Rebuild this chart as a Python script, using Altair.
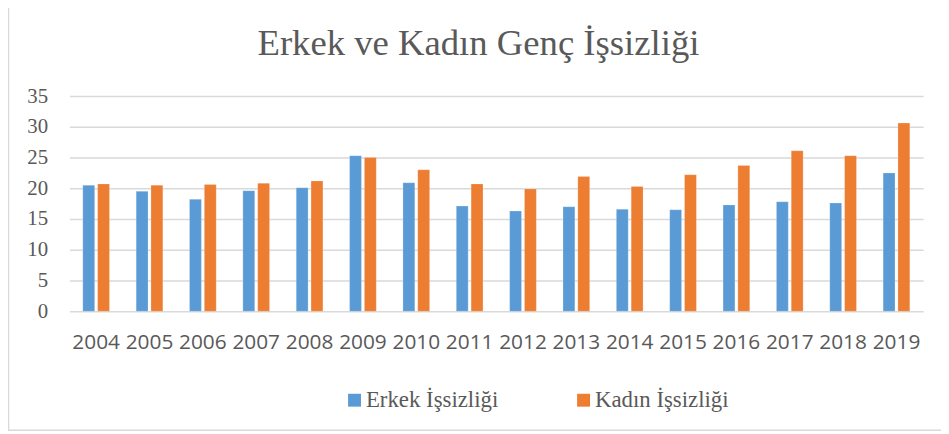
import altair as alt
import pandas as pd

years = [str(y) for y in range(2004, 2020)]
erkek = [20.5, 19.5, 18.2, 19.6, 20.1, 25.3, 20.9, 17.1, 16.3, 17.0, 16.6, 16.5, 17.3, 17.8, 17.6, 22.5]
kadin = [20.7, 20.5, 20.6, 20.8, 21.2, 25.0, 23.0, 20.7, 19.9, 21.9, 20.3, 22.2, 23.7, 26.1, 25.3, 30.6]
series = ["Erkek İşsizliği", "Kadın İşsizliği"]
colors = ["#5B9BD5", "#ED7D31"]
y_ticks = [0, 5, 10, 15, 20, 25, 30, 35]
title_text = "Erkek ve Kadın Genç İşsizliği"

rows = []
for i, yr in enumerate(years):
    rows.append({"yil": yr, "seri": series[0], "deger": erkek[i]})
    rows.append({"yil": yr, "seri": series[1], "deger": kadin[i]})
df = pd.DataFrame(rows)

W, H = 861, 217
PL, PT = 62, 87

frame = alt.Chart(pd.DataFrame({"a": [0]})).mark_rect(
    fill=None, stroke="#d9d9d9", strokeWidth=1.5
).encode(
    x=alt.value(-61.5), x2=alt.value(900), y=alt.value(-120), y2=alt.value(337)
)

title = alt.Chart(pd.DataFrame({"t": [title_text]})).mark_text(
    font="Liberation Serif", fontSize=37, color="#595959",
    align="center", baseline="alphabetic"
).encode(
    text="t:N", x=alt.value(W / 2 - 18), y=alt.value(-41)
)

bars = alt.Chart(df).mark_bar(stroke="#ffffff", strokeOpacity=0.35, strokeWidth=0.6).encode(
    x=alt.X("yil:N", sort=years,
            scale=alt.Scale(paddingInner=0.5, paddingOuter=0.25),
            axis=alt.Axis(title=None, labelAngle=0, ticks=False, domain=False, grid=False,
                          labelFont="Open Sans", labelFontSize=21, labelColor="#595959",
                          labelPadding=21)),
    xOffset=alt.XOffset("seri:N", sort=series,
                        scale=alt.Scale(paddingInner=0.2, paddingOuter=0)),
    y=alt.Y("deger:Q", scale=alt.Scale(domain=[0, 35], nice=False),
            axis=alt.Axis(title=None, values=y_ticks, ticks=False, domain=False,
                          grid=True, gridColor="#d9d9d9", gridWidth=1.5,
                          labelFont="Liberation Serif", labelFontSize=21,
                          labelColor="#595959", labelPadding=22)),
    color=alt.Color("seri:N", sort=series,
                    scale=alt.Scale(domain=series, range=colors),
                    legend=alt.Legend(title=None, orient="none", direction="horizontal",
                                      legendX=276, legendY=295,
                                      symbolType="square", symbolSize=169,
                                      symbolStrokeWidth=0, labelOffset=0,
                                      columnPadding=74,
                                      labelFont="Liberation Serif", labelFontSize=23,
                                      labelColor="#595959")),
)

chart = alt.layer(frame, title, bars).properties(
    width=W, height=H,
    padding={"left": PL, "top": PT, "right": 18, "bottom": 122},
    autosize=alt.AutoSizeParams(type="none"),
).configure_view(stroke=None)

chart.save("out.html", embed_options={"renderer": "svg", "actions": False})
